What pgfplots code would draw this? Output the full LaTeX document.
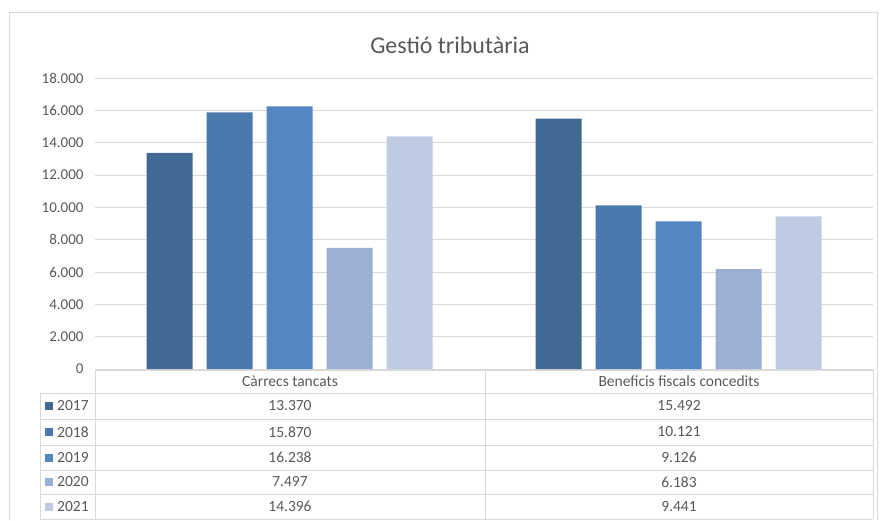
\documentclass[border=0pt]{standalone}
\usepackage{pgfplots}
\pgfplotsset{compat=1.18}
\usepackage{fontspec}
\setmainfont{Carlito}
\definecolor{cA}{HTML}{426894}
\definecolor{cB}{HTML}{4C79AD}
\definecolor{cC}{HTML}{5487C2}
\definecolor{cD}{HTML}{9AAFD3}
\definecolor{cE}{HTML}{BFCBE2}
\definecolor{txt}{HTML}{595959}
\definecolor{gridc}{HTML}{D9D9D9}
\begin{document}
\begin{tikzpicture}[x=1pt,y=1pt]
\useasboundingbox (0,0) rectangle (883,520);
\fill[white] (0,0) rectangle (883,520);
\draw[gridc] (9.5,0) -- (9.5,508) -- (877,508) -- (877,0);
\node[font=\fontsize{24}{28}\selectfont, text=txt] at (450,475) {Gestió tributària};
\begin{axis}[
  at={(95pt,151pt)}, anchor=south west,
  scale only axis, width=778pt, height=291pt,
  ymin=0, ymax=18000, xmin=-0.5, xmax=1.5,
  ybar=14pt, bar width=46pt,
  ytick={0,2000,...,18000}, scaled y ticks=false,
  ymajorgrids, grid style={gridc, line width=0.8pt},
  axis line style={draw=none}, xtick=\empty, major tick length=0pt,
  yticklabel style={font=\fontsize{15}{18}\selectfont, text=txt, xshift=-8pt,
    /pgf/number format/.cd, 1000 sep={.}, assume math mode=true},
]
\addplot[fill=cA, draw=none] coordinates {(0,13370) (1,15492)};
\addplot[fill=cB, draw=none] coordinates {(0,15870) (1,10121)};
\addplot[fill=cC, draw=none] coordinates {(0,16238) (1,9126)};
\addplot[fill=cD, draw=none] coordinates {(0,7497) (1,6183)};
\addplot[fill=cE, draw=none] coordinates {(0,14396) (1,9441)};
\end{axis}
% data table
\begin{scope}[gridc, line width=0.8pt]
\draw (95,150) -- (873,150);
\foreach \y in {127,101,75,50,26,1} \draw (40,\y) -- (873,\y);
\draw (40,127) -- (40,1);
\draw (95,150) -- (95,1);
\draw (485,150) -- (485,1);
\draw (873,150) -- (873,1);
\end{scope}
\begin{scope}[every node/.style={font=\fontsize{15.5}{18}\selectfont, text=txt}]
\node at (290,138.5) {Càrrecs tancats};
\node at (679,138.5) {Beneficis fiscals concedits};
\foreach \yy/\yr/\c/\a/\b in {114/2017/cA/13.370/15.492, 88/2018/cB/15.870/10.121, 62.5/2019/cC/16.238/9.126, 38/2020/cD/7.497/6.183, 13.5/2021/cE/14.396/9.441}{
  \fill[\c] (45,\yy-4) rectangle (53,\yy+4);
  \node[anchor=west, inner sep=0pt] at (57,\yy) {\yr};
  \node at (290,\yy) {\a};
  \node at (679,\yy) {\b};
}
\end{scope}
\end{tikzpicture}
\end{document}
